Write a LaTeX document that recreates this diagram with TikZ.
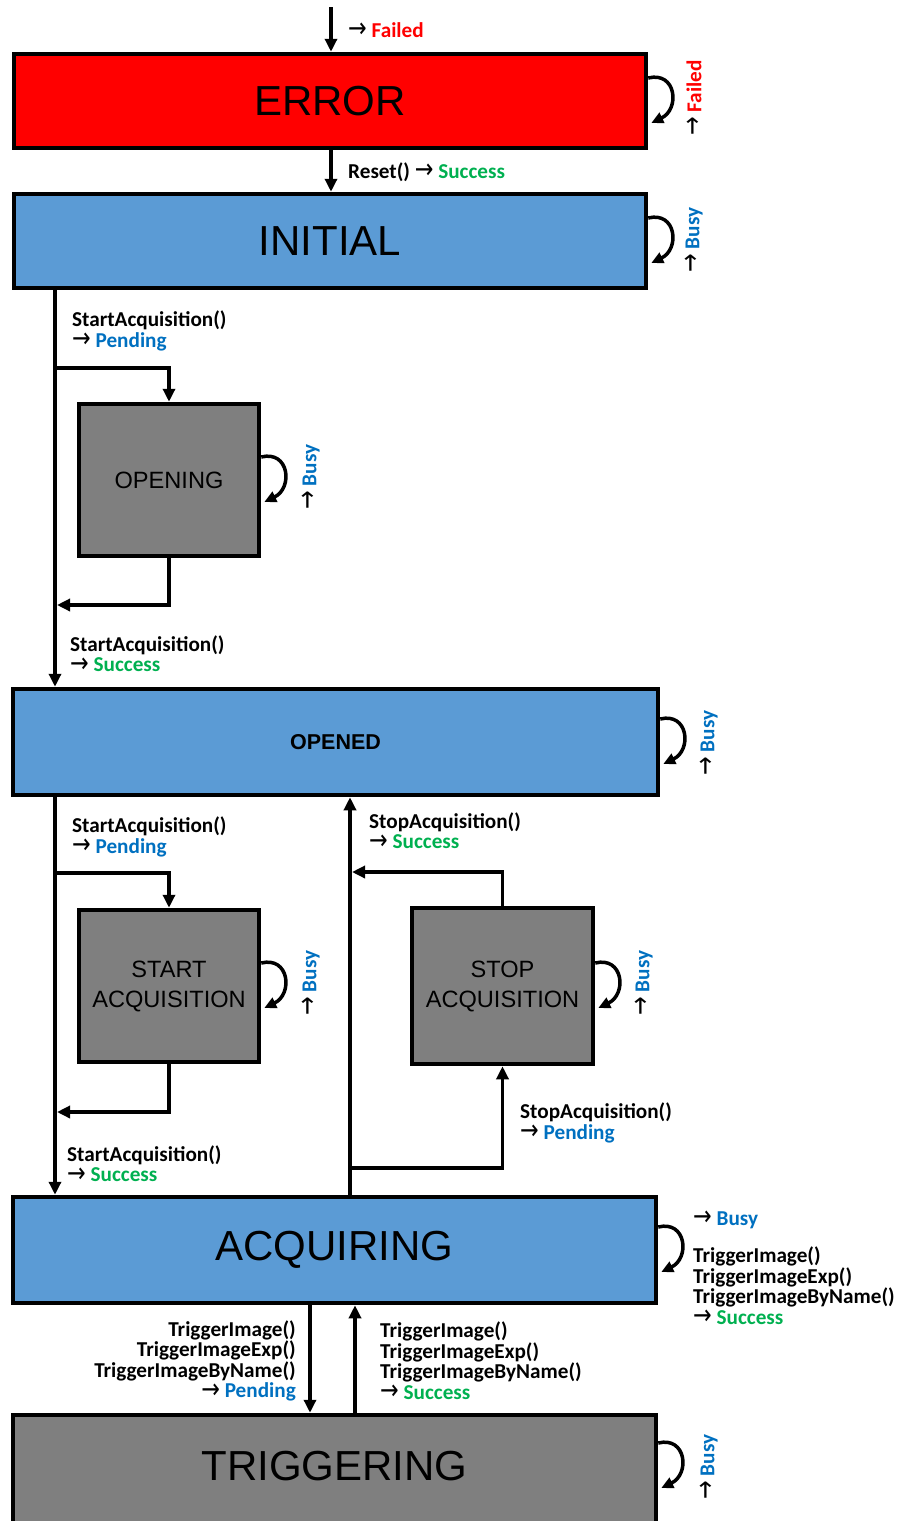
\documentclass[tikz,border=0pt]{standalone}
\usepackage{fontspec}
\setmainfont{Carlito}
\newfontfamily\boxfont{Liberation Sans}
\newfontfamily\symfont{DejaVu Sans}
\usetikzlibrary{arrows.meta,calc}
\definecolor{errred}{HTML}{FF0000}
\definecolor{stblue}{HTML}{5B9BD5}
\definecolor{stgray}{HTML}{7F7F7F}
\definecolor{okgreen}{HTML}{00B050}
\definecolor{pendblue}{HTML}{0070C0}
\newcommand\toarr{\raisebox{-0.3pt}{\scalebox{1.05}[1.3]{\symfont\mdseries →}}}
\newcommand\failed{\textcolor{errred}{Failed}}
\newcommand\success{\textcolor{okgreen}{Success}}
\newcommand\pending{\textcolor{pendblue}{Pending}}
\newcommand\busy{\textcolor{pendblue}{Busy}}
\tikzset{
  statebox/.style={draw=black, line width=4.5pt, rectangle, inner sep=0pt, align=center},
  bigstate/.style={statebox, font=\boxfont\fontsize{42}{48}\selectfont},
  smallstate/.style={statebox, fill=stgray, font=\boxfont\fontsize{23.6}{30}\selectfont},
  flow/.style={line width=3.5pt, -{Triangle[length=13pt,width=12pt]}},
  loopline/.style={line width=3.5pt, -{Triangle[length=12pt,width=11pt]}},
  lbl/.style={inner sep=0pt, font=\bfseries\fontsize{21.2}{20.5}\selectfont},
  looplbl/.style={lbl, rotate=90}
}
\newcommand\selfloop[1]{%
  \draw[loopline] ($(#1.east)+(0,-23)$) .. controls +(28,-7) and +(29,-14) .. ($(#1.east)+(3,22)$);}
\begin{document}
\begin{tikzpicture}[x=1pt,y=-1pt]
\useasboundingbox (0,0) rectangle (902,1521);

% states
\node[bigstate, fill=errred, minimum width=632pt, minimum height=94pt] (error) at (330,101) {ERROR};
\node[bigstate, fill=stblue, minimum width=632pt, minimum height=94pt] (initial) at (330,241) {INITIAL};
\node[smallstate, minimum width=180pt, minimum height=152pt] (opening) at (169,480) {OPENING};
\node[statebox, fill=stblue, minimum width=645pt, minimum height=106pt,
      font=\boxfont\bfseries\fontsize{21.5}{26}\selectfont] (opened) at (335.5,742) {OPENED};
\node[smallstate, minimum width=180pt, minimum height=152pt] (startacq) at (169,986) {START\\ACQUISITION};
\node[smallstate, minimum width=181pt, minimum height=156pt] (stopacq) at (502.5,986) {STOP\\ACQUISITION};
\node[bigstate, fill=stblue, minimum width=643pt, minimum height=106pt] (acquiring) at (334.5,1250) {ACQUIRING};
\node[bigstate, fill=stgray, minimum width=643pt, minimum height=112pt] (triggering) at (334.5,1471) {};
\node[font=\boxfont\fontsize{42}{48}\selectfont, inner sep=0pt] (trigtext) at (334.5,1466) {TRIGGERING};

% helper points for the routed connectors
\coordinate (src) at (331,7);
\coordinate (ltrunk) at (55,0);
\coordinate (b1) at (55,368);
\coordinate (r1) at (57,605);
\coordinate (b2) at (55,873);
\coordinate (r2) at (57,1112);
\coordinate (mtrunk) at (350,0);
\coordinate (b3) at (350,1168);
\coordinate (r3) at (352,872);
\coordinate (dn) at (310,0);
\coordinate (upw) at (355,0);

% transitions
\draw[flow] (src) -- (src |- error.north);
\draw[flow] (error.south -| src) -- (initial.north -| src);

\draw[flow] (initial.south -| ltrunk) -- (opened.north -| ltrunk);
\draw[flow] (b1) -| (opening.north);
\draw[flow] (opening.south) |- (r1);

\draw[flow] (opened.south -| ltrunk) -- (acquiring.north -| ltrunk);
\draw[flow] (b2) -| (startacq.north);
\draw[flow] (startacq.south) |- (r2);

\draw[flow] (acquiring.north -| mtrunk) -- (opened.south -| mtrunk);
\draw[flow] (b3) -| (stopacq.south);
\draw[flow] (stopacq.north) |- (r3);

\draw[flow] (acquiring.south -| dn) -- (triggering.north -| dn);
\draw[flow] (triggering.north -| upw) -- (acquiring.south -| upw);

% self loops
\selfloop{error}
\selfloop{initial}
\selfloop{opening}
\selfloop{opened}
\selfloop{startacq}
\selfloop{stopacq}
\selfloop{acquiring}
\draw[loopline] ($(triggering.east)+(0,-23-5)$) .. controls +(28,-7) and +(29,-14) .. ($(triggering.east)+(3,22-5)$);

% labels
\node[lbl, anchor=west] (l1) at (348,30) {\toarr{} \failed};
\node[lbl, anchor=west] (l2) at (348,172) {Reset() \toarr{} \success};
\node[looplbl] (l3) at (694,98) {\toarr{} \failed};
\node[looplbl] (l4) at (694,240) {\toarr{} \busy};
\node[lbl, anchor=west, align=left] (l5) at (72,331) {StartAcquisition()\\\toarr{} \pending};
\node[looplbl] (l6) at (311,477) {\toarr{} \busy};
\node[lbl, anchor=west, align=left] (l7) at (70,654) {StartAcquisition()\\\toarr{} \success};
\node[looplbl] (l8) at (709,743) {\toarr{} \busy};
\node[lbl, anchor=west, align=left] (l9) at (72,837) {StartAcquisition()\\\toarr{} \pending};
\node[lbl, anchor=west, align=left] (l10) at (369,831) {StopAcquisition()\\\toarr{} \success};
\node[looplbl] (l11) at (311,983) {\toarr{} \busy};
\node[looplbl] (l12) at (644,983) {\toarr{} \busy};
\node[lbl, anchor=west, align=left] (l13) at (520,1123) {StopAcquisition()\\\toarr{} \pending};
\node[lbl, anchor=west, align=left] (l14) at (67,1164) {StartAcquisition()\\\toarr{} \success};
\node[lbl, anchor=west] (l15) at (693,1220) {\toarr{} \busy};
\node[lbl, anchor=west, align=left] (l16) at (693,1286) {TriggerImage()\\TriggerImageExp()\\TriggerImageByName()\\\toarr{} \success};
\node[lbl, anchor=east, align=right] (l17) at (296,1361) {TriggerImage()\\TriggerImageExp()\\TriggerImageByName()\\\toarr{} \pending};
\node[lbl, anchor=west, align=left] (l18) at (380,1361) {TriggerImage()\\TriggerImageExp()\\TriggerImageByName()\\\toarr{} \success};
\node[looplbl] (l19) at (709,1467) {\toarr{} \busy};
\end{tikzpicture}
\end{document}
